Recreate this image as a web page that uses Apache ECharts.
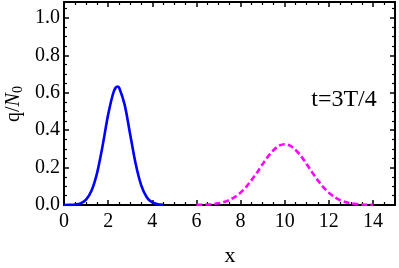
<!DOCTYPE html>
<html><head><meta charset="utf-8">
<script src="https://cdn.jsdelivr.net/npm/echarts@6/dist/echarts.min.js"></script>
<style>html,body{margin:0;padding:0;background:#fff}#c{width:399px;height:268px}</style>
</head><body><div id="c"></div>
<script>
// data
const xTicks = [0, 2, 4, 6, 8, 10, 12, 14];
const yTicks = [0.0, 0.2, 0.4, 0.6, 0.8, 1.0];
const blueX = [0, 0.25, 0.5, 0.75, 1.0, 1.25, 1.5, 1.75, 2.0, 2.25, 2.42, 2.5, 2.75, 3.0, 3.25, 3.5, 3.75, 4.0, 4.25, 4.5];
const blueY = [0.0001, 0.0005, 0.0022, 0.0087, 0.0285, 0.077, 0.172, 0.317, 0.483, 0.605, 0.633, 0.627, 0.535, 0.377, 0.219, 0.105, 0.0417, 0.0136, 0.0037, 0.0008];
const magX = [6, 6.25, 6.5, 6.75, 7, 7.25, 7.5, 7.75, 8, 8.25, 8.5, 8.75, 9, 9.25, 9.5, 9.75, 10, 10.25, 10.5, 10.75, 11, 11.25, 11.5, 11.75, 12, 12.25, 12.5, 12.75, 13, 13.25, 13.5, 13.75, 14];
const magY = [0.0006, 0.0012, 0.0025, 0.0048, 0.009, 0.016, 0.027, 0.043, 0.066, 0.096, 0.133, 0.174, 0.218, 0.260, 0.294, 0.317, 0.325, 0.317, 0.294, 0.260, 0.218, 0.174, 0.133, 0.096, 0.066, 0.043, 0.027, 0.016, 0.009, 0.0048, 0.0025, 0.0012, 0.0006];
const label = 't=3T/4';

const font = 'Liberation Serif';
const chart = echarts.init(document.getElementById('c'), null, {renderer: 'canvas'});
const axBase = {
  type: 'value',
  axisLine: {show: true, onZero: false, lineStyle: {color: '#000', width: 2}},
  axisTick: {show: true, inside: true, length: 5, lineStyle: {color: '#000', width: 1.5}},
  minorTick: {show: true, splitNumber: 4, length: 3, lineStyle: {color: '#000', width: 1.2}},
  splitLine: {show: false},
};
chart.setOption({
  animation: false,
  grid: {left: 64, right: 4, top: 2, bottom: 63},
  xAxis: [
    Object.assign({}, axBase, {min: 0, max: 15, interval: 2, position: 'bottom',
      axisLabel: {show: true, fontFamily: font, fontSize: 20, color: '#000', margin: 7,
        formatter: v => xTicks.includes(v) ? String(v) : ''}}),
    Object.assign({}, axBase, {min: 0, max: 15, interval: 2, position: 'top', axisLabel: {show: false}})
  ],
  yAxis: [
    Object.assign({}, axBase, {min: 0, max: 1.085, interval: 0.2, position: 'left',
      axisLabel: {show: true, fontFamily: font, fontSize: 20, color: '#000', margin: 4,
        formatter: v => yTicks.some(t => Math.abs(t - v) < 1e-9) ? v.toFixed(1) : ''}}),
    Object.assign({}, axBase, {min: 0, max: 1.085, interval: 0.2, position: 'right', axisLabel: {show: false}})
  ],
  series: [
    {type: 'line', data: blueX.map((x, i) => [x, blueY[i]]), smooth: 0.3, showSymbol: false,
      lineStyle: {color: '#0000ff', width: 2.6}, z: 1},
    {type: 'line', data: magX.map((x, i) => [x, magY[i]]), smooth: 0.3, showSymbol: false,
      lineStyle: {color: '#ff00ff', width: 2.6, type: [6, 3]}, z: 1}
  ],
  graphic: [
    {type: 'text', x: 344, y: 100, style: {text: label, font: '24px "Liberation Serif"', fill: '#000', align: 'center', verticalAlign: 'middle'}},
    {type: 'text', x: 14, y: 104, rotation: Math.PI / 2, originX: 0, originY: 0,
      style: {text: '{a|q/}{b|N}{c|0}', align: 'center', verticalAlign: 'middle',
        rich: {a: {fontFamily: font, fontSize: 20, fill: '#000'},
               b: {fontFamily: font, fontSize: 20, fontStyle: 'italic', fill: '#000'},
               c: {fontFamily: font, fontSize: 14, fill: '#000', verticalAlign: 'bottom', padding: [8, 0, 0, 0]}}}},
    {type: 'text', x: 230, y: 256, style: {text: 'x', font: '22px "Liberation Serif"', fill: '#000', align: 'center', verticalAlign: 'middle'}}
  ]
});
</script></body></html>
